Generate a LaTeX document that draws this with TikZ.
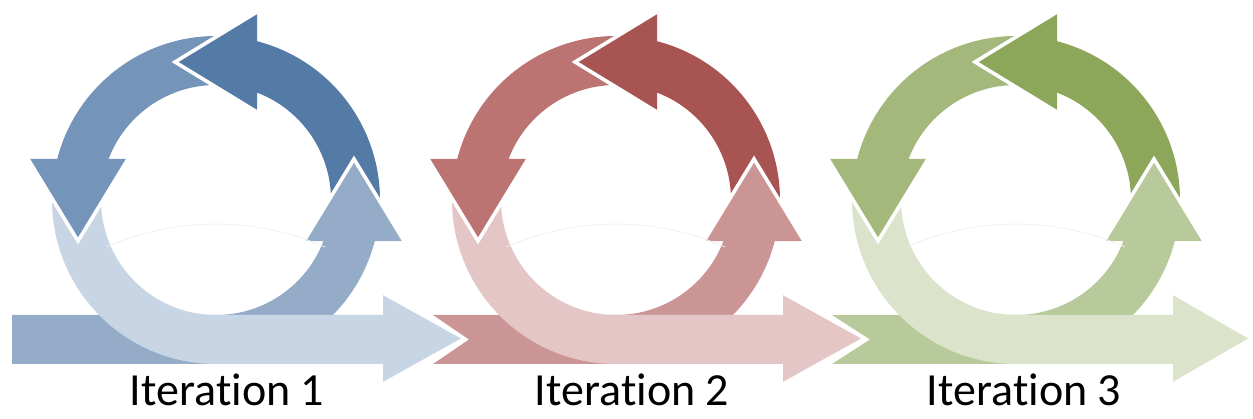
\documentclass[tikz,border=0pt]{standalone}
\usepackage{fontspec}
\setmainfont{Carlito}[Ligatures=NoCommon]

\definecolor{blueD}{HTML}{547AA6}
\definecolor{blueM}{HTML}{7494BA}
\definecolor{blueL}{HTML}{95ACC8}
\definecolor{blueW}{HTML}{C8D5E4}
\definecolor{redD}{HTML}{A85452}
\definecolor{redM}{HTML}{BC7473}
\definecolor{redL}{HTML}{CC9595}
\definecolor{redW}{HTML}{E5C6C7}
\definecolor{greenD}{HTML}{8CA65A}
\definecolor{greenM}{HTML}{A3B87A}
\definecolor{greenL}{HTML}{B8C99B}
\definecolor{greenW}{HTML}{DBE3CB}

% one curved arrow of the ring: tail near 0 degrees, head pointing left at the top
\newcommand{\arcarrow}[1]{%
  \fill[#1] (0:164) arc[start angle=0,end angle=75.5,radius=164]
    -- (41,188) -- (-41,138) -- (41,88) -- (69.1:115)
    arc[start angle=69.1,end angle=2,radius=115] -- (138,30) -- cycle;
  \draw[edge] (41,188) -- (-41,138) -- (41,88);}

% one stage: #1 centre x, #2 colour family, #3 left end of the feed bar,
% #4 base x of the outgoing head, #5 its tip x, #6 label name, #7 label x, #8 text
\newcommand{\iterstage}[8]{%
  \begin{scope}[shift={(#1,219)}]
    % feed bar along the bottom, rising up the right side
    \fill[#2L] #3 -- (0,-164) arc[start angle=-90,end angle=-14.5,radius=164]
      -- (188,-41) -- (138,41) -- (88,-41) -- (-20.9:115)
      arc[start angle=-20.9,end angle=-90,radius=115] -- cycle;
    % round the lower left, then straight out to the right
    \fill[#2W] (-164,0) arc[start angle=180,end angle=270,radius=164]
      -- (#4,-164) -- (#4,-184) -- (#5,-138.5) -- (#4,-93) -- (#4,-115)
      -- (0,-115) arc[start angle=270,end angle=182,radius=115]
      -- (-138,-30) -- cycle;
    \draw[edge] (#4,-184) -- (#5,-138.5) -- (#4,-93);
    % left arrow, pointing down
    \begin{scope}[rotate=90]\arcarrow{#2M}\end{scope}
    % upper arrow, pointing left
    \arcarrow{#2D}
    % head of the rising arrow lies over the tail of the upper one
    \fill[#2L] (188,-41) -- (138,41) -- (88,-41) -- cycle;
    \draw[edge] (188,-41) -- (138,41) -- (88,-41);
    % faint sheen inside the ring
    \draw[glint] (-109.1,-47) arc[start angle=113.8,end angle=66.2,radius=270];
    \node[itlabel] (#6) at (#7,-206) {#8};
  \end{scope}}

\begin{document}
\begin{tikzpicture}[x=1pt,y=1pt,
  edge/.style={white,line width=3.6pt,line join=miter},
  glint/.style={black!6,line width=0.8pt},
  itlabel/.style={font=\fontsize{46}{52}\selectfont,anchor=base,inner sep=0pt}]
  \path[use as bounding box] (0,0) rectangle (1253,419);
  \iterstage{216}{blue}{(-204,-115) -- (-204,-164)}{167}{249}{it1}{11}{Iteration 1}
  \iterstage{616}{red}{(-183,-115) -- (-147,-139.5) -- (-183,-164)}{167}{249}{it2}{16}{Iteration 2}
  \iterstage{1016}{green}{(-184,-115) -- (-146,-139.5) -- (-184,-164)}{157}{236}{it3}{8}{Iteration 3}
\end{tikzpicture}
\end{document}
